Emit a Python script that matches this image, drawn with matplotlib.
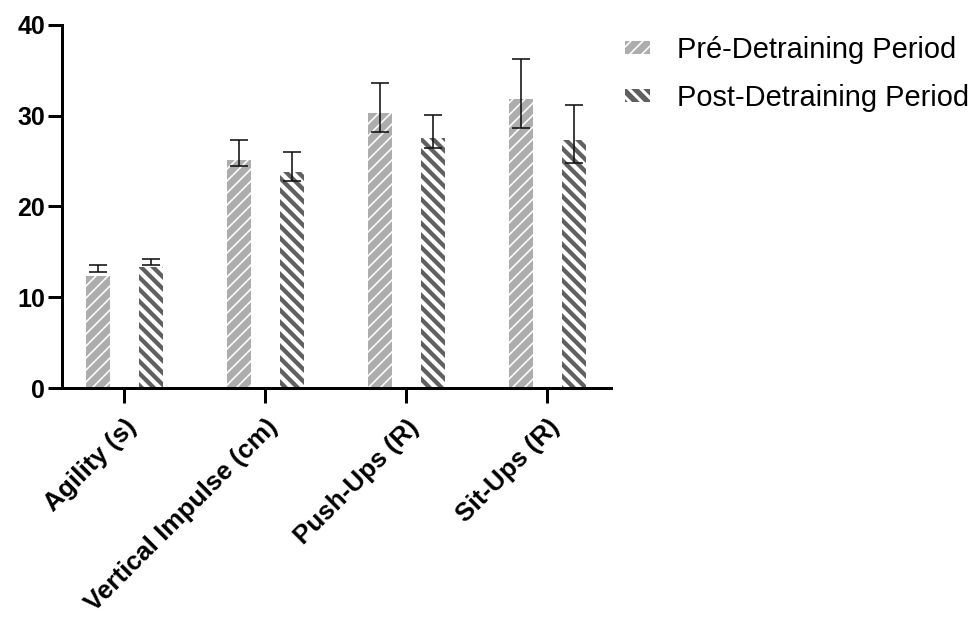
import matplotlib
matplotlib.use("Agg")
import matplotlib.pyplot as plt
import numpy as np

categories = ["Agility (s)", "Vertical Impulse (cm)", "Push-Ups (R)", "Sit-Ups (R)"]
series_names = ["Pré-Detraining Period", "Post-Detraining Period"]
pre_values = [12.3, 25.1, 30.3, 31.8]
post_values = [13.3, 23.8, 27.6, 27.3]
pre_err_low = [12.8, 24.5, 28.2, 28.6]
pre_err_high = [13.5, 27.3, 33.6, 36.2]
post_err_low = [13.55, 22.8, 26.4, 24.8]
post_err_high = [14.2, 26.0, 30.1, 31.2]
y_ticks = [0, 10, 20, 30, 40]

plt.rcParams['font.family'] = ['Liberation Sans', 'DejaVu Sans']

DPI = 72
fig = plt.figure(figsize=(979 / DPI, 619 / DPI), dpi=DPI)
ax = fig.add_axes([62 / 979, 1 - 388 / 619, (611 - 62) / 979, (388 - 25) / 619])

x = np.arange(len(categories))
off = 0.188
w = 0.17

pre_bars = ax.bar(x - off, pre_values, w, color="#adadad", edgecolor="white",
                  hatch="//", linewidth=0, label=series_names[0], zorder=2)
post_bars = ax.bar(x + off, post_values, w, color="#606060", edgecolor="white",
                   hatch="\\\\", linewidth=0, label=series_names[1], zorder=2)
for b in pre_bars:
    if hasattr(b, "set_hatch_linewidth"):
        b.set_hatch_linewidth(1.6)
for b in post_bars:
    if hasattr(b, "set_hatch_linewidth"):
        b.set_hatch_linewidth(4.2)

for xs, lo, hi in [(x - off, pre_err_low, pre_err_high), (x + off, post_err_low, post_err_high)]:
    lo = np.array(lo); hi = np.array(hi)
    ax.errorbar(xs, (lo + hi) / 2, yerr=(hi - lo) / 2, fmt="none", ecolor="#111111",
                elinewidth=1.6, capsize=9, capthick=1.6, zorder=3)

ax.set_xlim(-0.44, 3.45)
ax.set_ylim(0, 40)
ax.set_yticks(y_ticks)
ax.set_yticklabels([str(t) for t in y_ticks], fontsize=25, fontweight="bold")
ax.set_xticks(x)
ax.set_xticklabels(categories, rotation=45, ha="right", rotation_mode="anchor",
                   fontsize=26, fontweight="bold")
for s in ["top", "right"]:
    ax.spines[s].set_visible(False)
for s in ["left", "bottom"]:
    ax.spines[s].set_linewidth(3)
ax.tick_params(axis="y", width=3, length=14, pad=3)
ax.tick_params(axis="x", width=3, length=15, pad=12)

leg = fig.legend(handles=[pre_bars, post_bars], labels=series_names,
                 loc="upper left", bbox_to_anchor=(625 / 979, 1 - 36 / 619),
                 frameon=False, fontsize=29, handlelength=0.86, handleheight=0.31,
                 handletextpad=0.93, labelspacing=0.7, borderaxespad=0, borderpad=0)
for h, lw in zip(leg.legend_handles, [1.6, 3.0]):
    if hasattr(h, "set_hatch_linewidth"):
        h.set_hatch_linewidth(lw)

fig.savefig("out.png", dpi=DPI, facecolor="white")
